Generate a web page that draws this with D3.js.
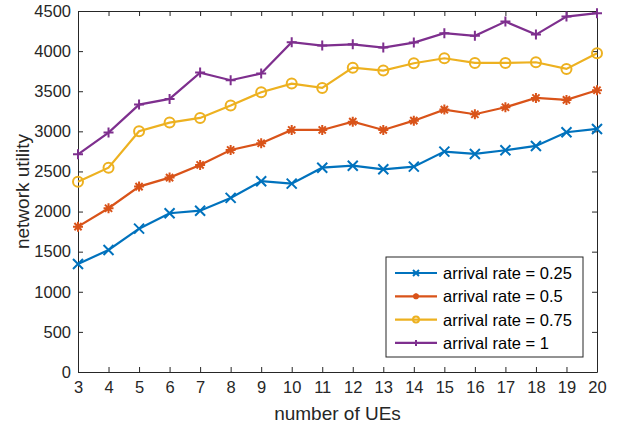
<!DOCTYPE html>
<html lang="en">
    <head>
        <meta charset="utf-8">
        <title>Network utility vs number of UEs</title>
        <script type="text/javascript" src="https://cdn.jsdelivr.net/npm/d3@7"></script>
        <style type="text/css">
            body { margin: 0; background: #fff; }
            .axis text { font-family: "Liberation Sans", Arial, sans-serif; font-size: 16.5px; fill: #262626; }
            .axis path, .axis line { stroke: #262626; }
        </style>
    </head>
    <body>
        <script type="text/javascript">
            var w = 618;
            var h = 427;
            var plotLeft = 78, plotRight = 597, plotTop = 11, plotBottom = 372;

            // data
            var ues = [3, 4, 5, 6, 7, 8, 9, 10, 11, 12, 13, 14, 15, 16, 17, 18, 19, 20];
            var rate025 = [1347, 1521, 1787, 1979, 2011, 2170, 2378, 2348, 2547, 2572, 2527, 2560, 2747, 2718, 2764, 2818, 2989, 3030];
            var rate05  = [1812, 2041, 2311, 2423, 2581, 2768, 2851, 3017, 3017, 3121, 3017, 3133, 3271, 3213, 3300, 3416, 3392, 3512];
            var rate075 = [2373, 2547, 3001, 3109, 3167, 3321, 3488, 3595, 3541, 3794, 3757, 3849, 3911, 3853, 3853, 3861, 3778, 3974];
            var rate1   = [2714, 2984, 3333, 3404, 3732, 3637, 3720, 4111, 4069, 4085, 4044, 4106, 4223, 4190, 4368, 4206, 4431, 4473];
            var yTicks = [0, 500, 1000, 1500, 2000, 2500, 3000, 3500, 4000, 4500];
            var seriesNames = ["arrival rate = 0.25", "arrival rate = 0.5", "arrival rate = 0.75", "arrival rate = 1"];

            var series = [
                { name: seriesNames[0], values: rate025, color: "#0072BD", marker: "x" },
                { name: seriesNames[1], values: rate05,  color: "#D95319", marker: "star" },
                { name: seriesNames[2], values: rate075, color: "#EDB120", marker: "o" },
                { name: seriesNames[3], values: rate1,   color: "#7E2F8E", marker: "plus" }
            ];

            var svg = d3.select("body")
                        .append("svg")
                        .attr("width", w)
                        .attr("height", h);

            var xScale = d3.scaleLinear().domain([3, 20]).range([plotLeft, plotRight]);
            var yScale = d3.scaleLinear().domain([0, 4500]).range([plotBottom, plotTop]);

            // draws a MATLAB-ish marker at 0,0 with half-size s
            function drawMarker(g, type, s, color) {
                if (type == "x") {
                    g.append("path").attr("d", "M" + -s + "," + -s + "L" + s + "," + s + "M" + -s + "," + s + "L" + s + "," + -s);
                } else if (type == "plus") {
                    g.append("path").attr("d", "M" + -s + ",0L" + s + ",0M0," + -s + "L0," + s);
                } else if (type == "star") {
                    var k = s * 0.72;
                    g.append("path").attr("d", "M" + -s + ",0L" + s + ",0M0," + -s + "L0," + s +
                        "M" + -k + "," + -k + "L" + k + "," + k + "M" + -k + "," + k + "L" + k + "," + -k);
                } else {
                    g.append("circle").attr("r", s).attr("fill", "none");
                }
                g.selectAll("path, circle").attr("stroke", color).attr("stroke-width", 2).attr("fill", "none");
            }

            // axes: box with ticks inside on all four sides
            var xAxis = d3.axisBottom(xScale).tickValues(ues).tickFormat(d3.format("d")).tickSizeInner(-5).tickSizeOuter(0).tickPadding(9);
            var yAxis = d3.axisLeft(yScale).tickValues(yTicks).tickFormat(d3.format("d")).tickSizeInner(-5).tickSizeOuter(0).tickPadding(7);
            var xTop = d3.axisTop(xScale).tickValues(ues).tickFormat("").tickSizeInner(-5).tickSizeOuter(0);
            var yRight = d3.axisRight(yScale).tickValues(yTicks).tickFormat("").tickSizeInner(-5).tickSizeOuter(0);

            svg.append("g").attr("class", "axis").attr("transform", "translate(0," + plotBottom + ")").call(xAxis);
            svg.append("g").attr("class", "axis").attr("transform", "translate(" + plotLeft + ",0)").call(yAxis);
            svg.append("g").attr("class", "axis").attr("transform", "translate(0," + plotTop + ")").call(xTop);
            svg.append("g").attr("class", "axis").attr("transform", "translate(" + plotRight + ",0)").call(yRight);

            // lines and markers
            var line = d3.line()
                         .x(function(d, i) { return xScale(ues[i]); })
                         .y(function(d) { return yScale(d); });

            series.forEach(function(s) {
                svg.append("path")
                    .datum(s.values)
                    .attr("d", line)
                    .attr("fill", "none")
                    .attr("stroke", s.color)
                    .attr("stroke-width", 2.2);

                svg.selectAll(null)
                    .data(s.values)
                    .enter()
                    .append("g")
                    .attr("transform", function(d, i) { return "translate(" + xScale(ues[i]) + "," + yScale(d) + ")"; })
                    .each(function() { drawMarker(d3.select(this), s.marker, 5, s.color); });
            });

            // axis labels
            svg.append("text")
                .attr("x", (plotLeft + plotRight) / 2)
                .attr("y", 420)
                .attr("text-anchor", "middle")
                .attr("font-family", "Liberation Sans, Arial, sans-serif")
                .attr("font-size", "19px")
                .attr("fill", "#262626")
                .text("number of UEs");

            svg.append("text")
                .attr("transform", "translate(29," + ((plotTop + plotBottom) / 2) + ") rotate(-90)")
                .attr("text-anchor", "middle")
                .attr("font-family", "Liberation Sans, Arial, sans-serif")
                .attr("font-size", "19px")
                .attr("fill", "#262626")
                .text("network utility");

            // legend
            var legend = svg.append("g").attr("transform", "translate(386,257)");
            legend.append("rect")
                .attr("width", 197)
                .attr("height", 100)
                .attr("fill", "#fff")
                .attr("stroke", "#262626")
                .attr("stroke-width", 1);

            series.forEach(function(s, i) {
                var row = legend.append("g").attr("transform", "translate(0," + (16 + i * 23.3) + ")");
                row.append("line")
                    .attr("x1", 9).attr("x2", 51)
                    .attr("stroke", s.color)
                    .attr("stroke-width", 2.2);
                var m = row.append("g").attr("transform", "translate(30,0)");
                drawMarker(m, s.marker, 3, s.color);
                row.append("text")
                    .attr("x", 57)
                    .attr("y", 6)
                    .attr("font-family", "Liberation Sans, Arial, sans-serif")
                    .attr("font-size", "16.5px")
                    .attr("fill", "#000")
                    .text(s.name);
            });
        </script>
    </body>
</html>
